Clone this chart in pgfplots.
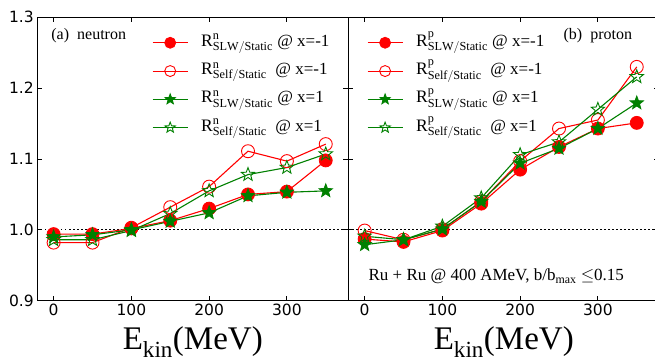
\documentclass[border=0pt]{standalone}
\usepackage{fontspec}
\setmainfont{Liberation Serif}
\newfontfamily\tickfont{DejaVu Sans}
\usepackage{pgfplots}
\pgfplotsset{compat=1.18}
\definecolor{mred}{RGB}{255,0,0}
\definecolor{mgreen}{RGB}{0,128,0}
\pgfdeclareplotmark{fstar}{%
  \pgfpathmoveto{\pgfpointpolar{90}{\pgfplotmarksize}}%
  \pgfpathlineto{\pgfpointpolar{126}{0.42\pgfplotmarksize}}%
  \pgfpathlineto{\pgfpointpolar{162}{\pgfplotmarksize}}%
  \pgfpathlineto{\pgfpointpolar{198}{0.42\pgfplotmarksize}}%
  \pgfpathlineto{\pgfpointpolar{234}{\pgfplotmarksize}}%
  \pgfpathlineto{\pgfpointpolar{270}{0.42\pgfplotmarksize}}%
  \pgfpathlineto{\pgfpointpolar{306}{\pgfplotmarksize}}%
  \pgfpathlineto{\pgfpointpolar{342}{0.42\pgfplotmarksize}}%
  \pgfpathlineto{\pgfpointpolar{18}{\pgfplotmarksize}}%
  \pgfpathlineto{\pgfpointpolar{54}{0.42\pgfplotmarksize}}%
  \pgfpathclose
  \pgfusepathqfillstroke}
\pgfdeclareplotmark{ostar}{%
  \pgfpathmoveto{\pgfpointpolar{90}{\pgfplotmarksize}}%
  \pgfpathlineto{\pgfpointpolar{126}{0.42\pgfplotmarksize}}%
  \pgfpathlineto{\pgfpointpolar{162}{\pgfplotmarksize}}%
  \pgfpathlineto{\pgfpointpolar{198}{0.42\pgfplotmarksize}}%
  \pgfpathlineto{\pgfpointpolar{234}{\pgfplotmarksize}}%
  \pgfpathlineto{\pgfpointpolar{270}{0.42\pgfplotmarksize}}%
  \pgfpathlineto{\pgfpointpolar{306}{\pgfplotmarksize}}%
  \pgfpathlineto{\pgfpointpolar{342}{0.42\pgfplotmarksize}}%
  \pgfpathlineto{\pgfpointpolar{18}{\pgfplotmarksize}}%
  \pgfpathlineto{\pgfpointpolar{54}{0.42\pgfplotmarksize}}%
  \pgfpathclose
  \pgfusepathqstroke}
\pgfplotsset{
  base/.style={
    scale only axis, width=311pt, height=283.4pt,
    xmin=-21, xmax=379, ymin=0.9, ymax=1.3,
    xtick={0,100,200,300}, ytick={0.9,1.0,1.1,1.2,1.3},
    tick align=inside, major tick length=5pt,
    tick style={black, line width=0.8pt},
    axis line style={line width=1.2pt},
    ticklabel style={font=\tickfont\fontsize{15.5}{16}\selectfont},
    /pgf/number format/assume math mode=true,
    yticklabel style={/pgf/number format/.cd, fixed, fixed zerofill, precision=1},
    xlabel={E$_{\mathrm{kin}}$(MeV)},
    xlabel style={at={(axis description cs:0.5,0)}, anchor=base, yshift=-49pt, font=\fontsize{33}{33}\selectfont},
    legend style={draw=none, fill=none, font=\fontsize{17}{20}\selectfont, row sep=7.3pt, column sep=13pt,
      nodes={inner sep=0pt, text height=14pt, text depth=7pt}},
    legend cell align=left,
    legend image code/.code={\draw[mark repeat=2, mark phase=2, ##1, mark size=5.5pt] plot coordinates {(0pt,0pt) (17.5pt,0pt) (35pt,0pt)};},
  },
  s1/.style={mred, line width=1.1pt, mark=*, mark size=6.5pt, mark options={fill=mred, line width=0.8pt}},
  s2/.style={mred, line width=1.1pt, mark=o, mark size=6.5pt, mark options={line width=0.9pt}},
  s3/.style={mgreen, line width=1.1pt, mark=fstar, mark size=7pt, mark options={fill=mgreen, line width=0.8pt}},
  s4/.style={mgreen, line width=1.1pt, mark=ostar, mark size=7pt, mark options={line width=0.9pt}},
}
\newcommand{\Rn}[2]{{\fontsize{17.5}{17.5}\selectfont$\mathrm{R}^{\mathrm{#1}}_{\mathrm{#2}}$}}
\begin{document}
\begin{tikzpicture}
\begin{axis}[base, name=L, at={(0pt,0pt)}, anchor=south west,
  legend style={at={(0.359,0.955)}, anchor=north west}]
\addplot[black, line width=0.9pt, dash pattern=on 1.2pt off 2.8pt, forget plot] coordinates {(-21,1) (379,1)};
\addplot[s1] coordinates {(0,0.994) (50,0.994) (100,1.002) (150,1.013) (200,1.030) (250,1.050) (300,1.054) (350,1.098)};
\addlegendentry{\Rn{n}{SLW/Static} @ x=-1}
\addplot[s2] coordinates {(0,0.982) (50,0.982) (100,1.003) (150,1.032) (200,1.061) (250,1.111) (300,1.097) (350,1.121)};
\addlegendentry{\Rn{n}{Self/Static}\ \ @ x=-1}
\addplot[s3] coordinates {(0,0.990) (50,0.993) (100,1.000) (150,1.012) (200,1.024) (250,1.048) (300,1.053) (350,1.055)};
\addlegendentry{\Rn{n}{SLW/Static} @ x=1}
\addplot[s4] coordinates {(0,0.986) (50,0.986) (100,0.999) (150,1.023) (200,1.055) (250,1.078) (300,1.088) (350,1.107)};
\addlegendentry{\Rn{n}{Self/Static}\ \ @ x=1}
\node[anchor=base west, font=\fontsize{16}{16}\selectfont] at (rel axis cs:0.034,0.92) {(a)\ \ neutron};
\end{axis}
\begin{axis}[base, name=R, at={(L.south east)}, anchor=south west, yticklabels={},
  legend style={at={(0.05,0.955)}, anchor=north west}]
\addplot[black, line width=0.9pt, dash pattern=on 1.2pt off 2.8pt, forget plot] coordinates {(-21,1) (379,1)};
\addplot[s1] coordinates {(0,0.987) (50,0.983) (100,0.999) (150,1.037) (200,1.085) (250,1.117) (300,1.143) (350,1.151)};
\addlegendentry{\Rn{p}{SLW/Static} @ x=-1}
\addplot[s2] coordinates {(0,0.999) (50,0.986) (100,1.001) (150,1.040) (200,1.097) (250,1.143) (300,1.155) (350,1.230)};
\addlegendentry{\Rn{p}{Self/Static}\ \ @ x=-1}
\addplot[s3] coordinates {(0,0.979) (50,0.986) (100,1.001) (150,1.040) (200,1.094) (250,1.115) (300,1.143) (350,1.179)};
\addlegendentry{\Rn{p}{SLW/Static} @ x=1}
\addplot[s4] coordinates {(0,0.991) (50,0.986) (100,1.005) (150,1.045) (200,1.106) (250,1.124) (300,1.170) (350,1.216)};
\addlegendentry{\Rn{p}{Self/Static}\ \ @ x=1}
\node[anchor=base west, font=\fontsize{16}{16}\selectfont] at (rel axis cs:0.681,0.92) {(b)\ \ proton};
\node[anchor=base west, font=\fontsize{17}{17}\selectfont] at (rel axis cs:0.054,0.071) {Ru + Ru @ 400 AMeV, b/b$_{\mathrm{max}}$ $\leq$0.15};
\end{axis}
\pgfresetboundingbox
\path (-37.3pt,-59.3pt) rectangle (617.7pt,300.7pt);
\end{tikzpicture}
\end{document}
